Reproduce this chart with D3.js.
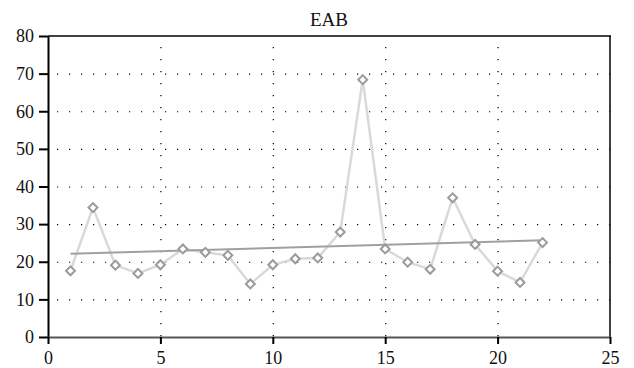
<!DOCTYPE html>
<html><head><meta charset="utf-8">
<script src="https://cdn.jsdelivr.net/npm/d3@7"></script>
<style>body{margin:0;background:#fff}svg{display:block}</style>
</head><body><svg id="c" width="634" height="368"></svg>
<script>
const title = "EAB";
const xValues = [1,2,3,4,5,6,7,8,9,10,11,12,13,14,15,16,17,18,19,20,21,22];
const yValues = [17.6,34.4,19.1,16.9,19.2,23.4,22.5,21.7,14.1,19.2,20.8,21.0,27.9,68.4,23.4,19.9,18.0,37.0,24.6,17.5,14.5,25.1];
const trendX = [1,22];
const trendY = [22.1,25.7];
const xTicks = [0,5,10,15,20,25];
const yTicks = [0,10,20,30,40,50,60,70,80];

const svg = d3.select("#c");
const L=48,R=610,T=36,B=337;
const x = d3.scaleLinear().domain([0,25]).range([L,R]);
const y = d3.scaleLinear().domain([0,80]).range([B,T]);
const font = "'Liberation Serif','DejaVu Serif',serif";

// grid
const g = svg.append("g");
g.selectAll("line.h").data(yTicks.filter(d=>d>0&&d<80)).join("line")
 .attr("x1",L+9).attr("x2",R).attr("y1",d=>y(d)+0.5).attr("y2",d=>y(d)+0.5)
 .attr("stroke","#000").attr("stroke-width",1.2).attr("stroke-dasharray","1.2 10.8");
g.selectAll("line.v").data(xTicks.filter(d=>d>0&&d<25)).join("line")
 .attr("x1",d=>x(d)+0.5).attr("x2",d=>x(d)+0.5).attr("y1",T+11).attr("y2",B)
 .attr("stroke","#000").attr("stroke-width",1.2).attr("stroke-dasharray","1.2 10.8");

// frame
svg.append("line").attr("x1",L).attr("x2",R+1).attr("y1",T).attr("y2",T).attr("stroke","#000").attr("stroke-width",1.5);
svg.append("line").attr("x1",R).attr("x2",R).attr("y1",T).attr("y2",B).attr("stroke","#000").attr("stroke-width",1.5);

// axes
const yAxis = svg.append("g").attr("transform",`translate(${L},0)`)
 .call(d3.axisLeft(y).tickValues(yTicks).tickSize(9).tickSizeOuter(0).tickPadding(5));
yAxis.select(".domain").attr("stroke","#000").attr("stroke-width",2);
yAxis.selectAll(".tick line").attr("stroke","#000").attr("stroke-width",2);
yAxis.selectAll("text").attr("font-family",font).attr("font-size",18).attr("fill","#111");

const xAxis = svg.append("g").attr("transform",`translate(0,${B})`)
 .call(d3.axisBottom(x).tickValues(xTicks).tickSize(7).tickSizeOuter(0).tickPadding(7));
xAxis.select(".domain").attr("stroke","#555").attr("stroke-width",2);
xAxis.selectAll(".tick line").attr("stroke","#000").attr("stroke-width",2);
xAxis.selectAll("text").attr("font-family",font).attr("font-size",18).attr("fill","#111");

// data line
const pts = xValues.map((d,i)=>[d,yValues[i]]);
svg.append("path").datum(pts)
 .attr("d",d3.line().x(d=>x(d[0])).y(d=>y(d[1])))
 .attr("fill","none").attr("stroke","#d9d9d9").attr("stroke-width",2.5);

// trend
svg.append("path").datum(trendX.map((d,i)=>[d,trendY[i]]))
 .attr("d",d3.line().x(d=>x(d[0])).y(d=>y(d[1])))
 .attr("fill","none").attr("stroke","#a39e9f").attr("stroke-width",2);

// markers
svg.selectAll("path.m").data(pts).join("path")
 .attr("transform",d=>`translate(${x(d[0])},${y(d[1])}) rotate(45)`)
 .attr("d",d3.symbol().type(d3.symbolSquare).size(40))
 .attr("fill","#fff").attr("stroke","#9e9a9b").attr("stroke-width",2);

// title
svg.append("text").attr("x",(L+R)/2).attr("y",26).attr("text-anchor","middle")
 .attr("font-family",font).attr("font-size",19).attr("fill","#111").text(title);
</script></body></html>
